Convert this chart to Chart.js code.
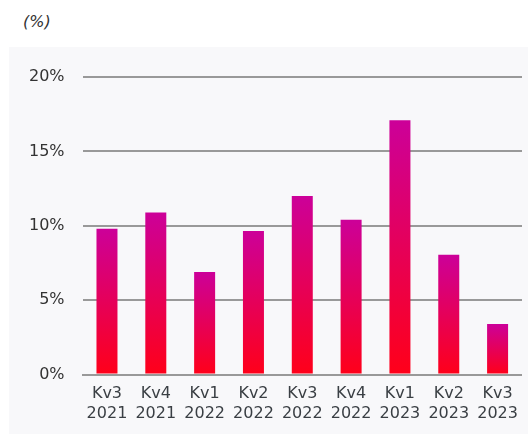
<!DOCTYPE html>
<html>
<head>
<meta charset="utf-8">
<script src="https://cdn.jsdelivr.net/npm/chart.js@4/dist/chart.umd.min.js"></script>
<style>
  body { margin: 0; background: #fff; font-family: "DejaVu Sans", sans-serif; }
  #unit { position: absolute; left: 23px; top: 12px; font-size: 16px; font-style: italic; color: #333; }
  #panel { position: absolute; left: 9px; top: 47px; width: 519px; height: 387px; background: #f8f8fa; }
</style>
</head>
<body>
<div id="unit">(%)</div>
<div id="panel"><canvas id="returnsChart" width="519" height="387"></canvas></div>
<script>
// kvartal + år
const quarters = ["Kv3", "Kv4", "Kv1", "Kv2", "Kv3", "Kv4", "Kv1", "Kv2", "Kv3"];
const years = ["2021", "2021", "2022", "2022", "2022", "2022", "2023", "2023", "2023"];
const values = [9.8, 10.9, 6.9, 9.65, 12.0, 10.4, 17.1, 8.05, 3.4];
const yTicks = [0, 5, 10, 15, 20];

document.addEventListener("DOMContentLoaded", function () {
  const labels = quarters.map((q, i) => [q, years[i]]);

  const ctx = document.getElementById("returnsChart").getContext("2d");
  new Chart(ctx, {
    type: "bar",
    data: {
      labels: labels,
      datasets: [
        {
          data: values,
          barPercentage: 0.86,
          categoryPercentage: 0.5,
          backgroundColor: (c) => {
            const chart = c.chart;
            if (!chart.chartArea || c.raw === undefined) return "#e6005a";
            const y = chart.scales.y;
            const top = y.getPixelForValue(c.raw);
            const bottom = y.getPixelForValue(0);
            const g = chart.ctx.createLinearGradient(0, top, 0, bottom);
            g.addColorStop(0, "#cc0099");
            g.addColorStop(1, "#ff0019");
            return g;
          },
        },
      ],
    },
    options: {
      responsive: false,
      animation: false,
      layout: { padding: { top: 30, right: 1, left: 2, bottom: 1 } },
      plugins: { legend: { display: false }, tooltip: { enabled: false } },
      scales: {
        x: {
          grid: { display: false, drawTicks: false },
          border: { color: "#999", width: 2 },
          ticks: {
            color: "#3a3f44",
            font: { family: "DejaVu Sans", size: 16 },
            padding: 10,
            maxRotation: 0,
            autoSkip: false,
          },
        },
        y: {
          min: 0,
          max: 20,
          afterBuildTicks: (axis) => {
            axis.ticks = yTicks.map((v) => ({ value: v }));
          },
          grid: { color: "#999", lineWidth: 2, drawTicks: false },
          border: { display: false },
          ticks: {
            color: "#333",
            autoSkip: false,
            font: { family: "DejaVu Sans", size: 16 },
            padding: 18,
            callback: (v) => v + "%",
          },
        },
      },
    },
  });
});
</script>
</body>
</html>
